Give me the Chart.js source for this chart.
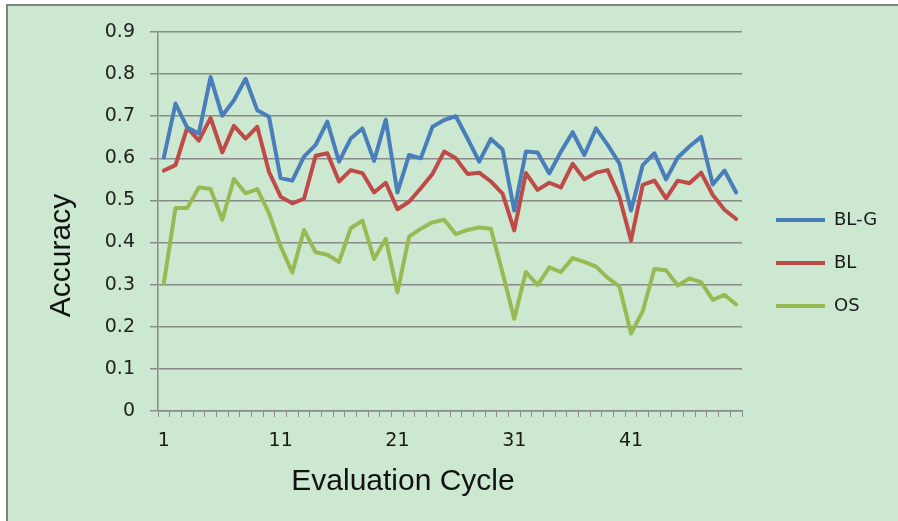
<!DOCTYPE html>
<html>
<head>
<meta charset="utf-8">
<script src="https://cdn.jsdelivr.net/npm/chart.js@4"></script>
<style>
  html, body { margin: 0; padding: 0; background: #fff; }
  #frame {
    position: absolute; left: 6px; top: 4px; width: 892px; height: 515px;
    background: #cde8d1; border-top: 2px solid #808080; border-left: 2px solid #808080;
    border-bottom: 1px solid #b8b8b8;
  }
  #wrap { position: absolute; left: 0; top: 0; width: 898px; height: 521px; }
</style>
</head>
<body>
<div id="frame"></div>
<div id="wrap"><canvas id="chart" width="898" height="521"></canvas></div>
<script>
/* ---------- DATA ---------- */
const cycles = ["1","2","3","4","5","6","7","8","9","10","11","12","13","14","15","16","17","18","19","20",
  "21","22","23","24","25","26","27","28","29","30","31","32","33","34","35","36","37","38","39","40",
  "41","42","43","44","45","46","47","48","49","50"];

const blg = [0.602,0.730,0.673,0.659,0.793,0.701,0.738,0.789,0.714,0.699,
  0.553,0.547,0.604,0.632,0.687,0.592,0.647,0.671,0.594,0.692,
  0.519,0.608,0.600,0.675,0.691,0.700,0.647,0.592,0.646,0.621,
  0.476,0.616,0.614,0.564,0.616,0.662,0.608,0.671,0.632,0.588,
  0.476,0.584,0.612,0.550,0.602,0.628,0.651,0.538,0.571,0.519];

const bl = [0.571,0.584,0.673,0.642,0.696,0.614,0.677,0.647,0.675,0.568,
  0.509,0.493,0.504,0.606,0.612,0.545,0.572,0.565,0.519,0.542,
  0.479,0.497,0.529,0.563,0.616,0.600,0.563,0.566,0.545,0.516,
  0.429,0.565,0.525,0.542,0.531,0.587,0.550,0.566,0.572,0.509,
  0.405,0.537,0.547,0.505,0.547,0.541,0.566,0.513,0.478,0.456];

const os = [0.304,0.482,0.482,0.531,0.527,0.454,0.551,0.517,0.527,0.470,
  0.391,0.329,0.430,0.377,0.371,0.354,0.434,0.452,0.361,0.409,
  0.282,0.414,0.433,0.448,0.454,0.420,0.430,0.436,0.433,0.328,
  0.219,0.330,0.299,0.341,0.330,0.363,0.354,0.343,0.316,0.296,
  0.184,0.237,0.337,0.334,0.298,0.315,0.306,0.264,0.276,0.253];

const seriesNames = ["BL-G", "BL", "OS"];
const seriesColors = ["#4a7ebb", "#be4b48", "#98b954"];

/* ---------- LEGEND + AXIS TITLE PLACEMENT ---------- */
// shift a scale's title without moving the scale itself
function shiftTitle(scale, dx, dy) {
  if (scale._shifted) return;
  scale._shifted = true;
  const draw = scale.drawTitle;
  scale.drawTitle = function () {
    const box = { l: this.left, r: this.right, t: this.top, b: this.bottom };
    this.left += dx; this.right += dx; this.top += dy; this.bottom += dy;
    draw.call(this);
    this.left = box.l; this.right = box.r; this.top = box.t; this.bottom = box.b;
  };
}

const placement = {
  id: "placement",
  afterInit(chart) {
    const lg = chart.legend;
    const fit = lg.fit;
    lg.fit = function () { fit.call(this); this.width = 156; };
  },
  afterLayout(chart) {
    const lg = chart.legend;
    lg.left = 751; lg.right = 898;
    lg.top = 5; lg.bottom = 521;
    shiftTitle(chart.scales.x, -47, 0);
    shiftTitle(chart.scales.y, 0, 34);
  }
};

function line(label, data, color) {
  return {
    label, data,
    borderColor: color, backgroundColor: color,
    borderWidth: 4, pointRadius: 0, tension: 0,
    borderJoinStyle: "round", borderCapStyle: "round", fill: false
  };
}

/* ---------- CHART ---------- */
new Chart(document.getElementById("chart"), {
  type: "line",
  data: {
    labels: cycles,
    datasets: [
      line(seriesNames[0], blg, seriesColors[0]),
      line(seriesNames[1], bl, seriesColors[1]),
      line(seriesNames[2], os, seriesColors[2])
    ]
  },
  plugins: [placement],
  options: {
    responsive: false,
    animation: false,
    layout: { padding: { left: 8, top: 32, right: 0, bottom: 10 } },
    plugins: {
      tooltip: { enabled: false },
      legend: {
        position: "right",
        labels: {
          boxWidth: 49, boxHeight: 4, padding: 25, color: "#1a1a1a",
          font: { family: "DejaVu Sans", size: 18 },
          generateLabels(chart) {
            return chart.data.datasets.map((ds, i) => ({
              text: ds.label, fillStyle: ds.borderColor, strokeStyle: ds.borderColor,
              lineWidth: 0, hidden: false, datasetIndex: i, fontColor: "#1a1a1a"
            }));
          }
        }
      }
    },
    scales: {
      x: {
        offset: true,
        afterFit(s) { s.height = 100; },
        grid: { offset: true, drawOnChartArea: false, drawTicks: true, tickLength: 6, color: "#8a8a8a" },
        border: { color: "#8a8a8a", width: 1.5 },
        ticks: {
          autoSkip: false, maxRotation: 0, padding: 13, color: "#1a1a1a",
          font: { family: "DejaVu Sans", size: 19 },
          callback: (v, i) => (i % 10 === 0 ? cycles[i] : "")
        },
        title: {
          display: true, text: "Evaluation Cycle", color: "#111",
          font: { family: "Liberation Sans", size: 30 },
          padding: { top: 0, bottom: 11 }
        }
      },
      y: {
        min: 0, max: 0.9,
        afterFit(s) { s.width = 150; },
        grid: { color: "#8a8a8a", lineWidth: 1.5, tickLength: 8 },
        border: { color: "#8a8a8a", width: 1.5 },
        ticks: {
          stepSize: 0.1, padding: 15, color: "#222",
          font: { family: "DejaVu Sans", size: 19 },
          callback: v => (Math.abs(v) < 1e-9 ? "0" : v.toFixed(1))
        },
        title: {
          display: true, text: "Accuracy", color: "#111",
          font: { family: "Liberation Sans", size: 30 },
          padding: { top: 36, bottom: 0 }
        }
      }
    }
  }
});
</script>
</body>
</html>
